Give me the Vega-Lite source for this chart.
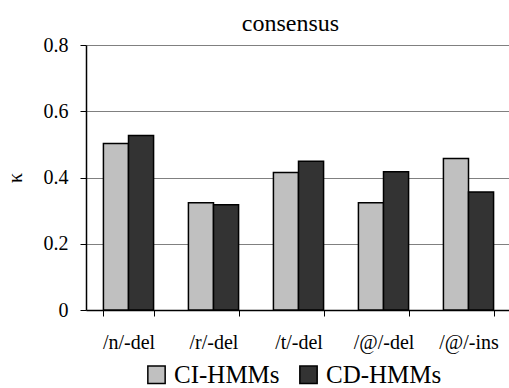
{
  "$schema": "https://vega.github.io/schema/vega-lite/v6.json",
  "autosize": "none",
  "width": 425,
  "height": 265,
  "padding": {"left": 86, "top": 45, "right": 0, "bottom": 78},
  "background": "white",
  "config": {
    "font": "Liberation Serif, Times New Roman, serif",
    "view": {"stroke": null}
  },
  "title": {"text": "consensus", "anchor": "middle", "fontSize": 24, "fontWeight": "normal", "color": "black", "font": "Liberation Serif, Times New Roman, serif", "offset": -1, "dx": -8},
  "data": {
    "values": [
      {"cat": "/n/-del", "model": "CI-HMMs", "kappa": 0.503},
      {"cat": "/n/-del", "model": "CD-HMMs", "kappa": 0.527},
      {"cat": "/r/-del", "model": "CI-HMMs", "kappa": 0.324},
      {"cat": "/r/-del", "model": "CD-HMMs", "kappa": 0.318},
      {"cat": "/t/-del", "model": "CI-HMMs", "kappa": 0.415},
      {"cat": "/t/-del", "model": "CD-HMMs", "kappa": 0.449},
      {"cat": "/@/-del", "model": "CI-HMMs", "kappa": 0.324},
      {"cat": "/@/-del", "model": "CD-HMMs", "kappa": 0.417},
      {"cat": "/@/-ins", "model": "CI-HMMs", "kappa": 0.457},
      {"cat": "/@/-ins", "model": "CD-HMMs", "kappa": 0.356}
    ]
  },
  "mark": {"type": "bar", "stroke": "black", "strokeWidth": 1.5},
  "encoding": {
    "x": {
      "field": "cat", "type": "nominal", "sort": null,
      "scale": {"paddingInner": 0.41, "paddingOuter": 0.205},
      "axis": {
        "title": null, "labelAngle": 0, "labelFontSize": 20, "labelColor": "black",
        "labelFont": "Liberation Serif, Times New Roman, serif", "labelPadding": 16, "tickBand": "extent",
        "tickSize": 6, "tickColor": "black", "domainColor": "black", "domainWidth": 1.5, "tickWidth": 1
      }
    },
    "xOffset": {"field": "model", "type": "nominal", "sort": ["CI-HMMs", "CD-HMMs"], "scale": {"paddingInner": 0, "paddingOuter": 0}},
    "y": {
      "field": "kappa", "type": "quantitative",
      "scale": {"domain": [0, 0.8], "nice": false},
      "axis": {
        "title": "κ", "titleFontSize": 20, "titleFont": "Liberation Serif, Times New Roman, serif", "titleFontWeight": "normal",
        "titleColor": "black", "titlePadding": 18,
        "values": [0, 0.2, 0.4, 0.6, 0.8], "format": "~g",
        "labelFontSize": 20, "labelColor": "black", "labelFont": "Liberation Serif, Times New Roman, serif", "labelPadding": 12,
        "tickSize": 6, "tickColor": "black", "domainColor": "black", "domainWidth": 1.5,
        "grid": true, "gridColor": "#808080", "gridWidth": 1.2
      }
    },
    "color": {
      "field": "model", "type": "nominal",
      "sort": ["CI-HMMs", "CD-HMMs"],
      "scale": {"domain": ["CI-HMMs", "CD-HMMs"], "range": ["#c0c0c0", "#333333"]},
      "legend": {
        "title": null, "orient": "none", "direction": "horizontal", "legendX": 58, "legendY": 317,
        "symbolType": "square", "symbolSize": 300, "symbolStrokeColor": "black", "symbolStrokeWidth": 1.5,
        "labelFontSize": 25, "labelFont": "Liberation Serif, Times New Roman, serif", "labelColor": "black",
        "columnPadding": 16, "labelOffset": 5, "symbolOpacity": 1
      }
    }
  }
}
